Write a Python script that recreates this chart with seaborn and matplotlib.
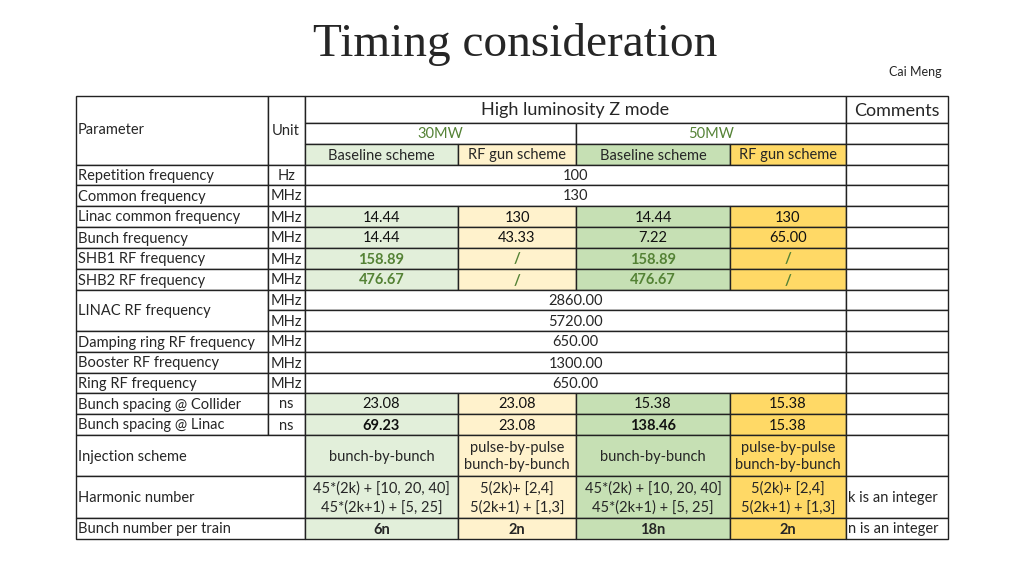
"""Timing consideration table (Z mode) redrawn as a figure."""

import matplotlib.pyplot as plt
from matplotlib.patches import Rectangle
import seaborn as sns

sns.set_theme(style="white", rc={"font.family": "Lato"})

# ---- data ----
params = [
    "Repetition frequency", "Common frequency", "Linac common frequency",
    "Bunch frequency", "SHB1 RF frequency", "SHB2 RF frequency",
    "LINAC RF frequency", None, "Damping ring RF frequency",
    "Booster RF frequency", "Ring RF frequency", "Bunch spacing @ Collider",
    "Bunch spacing @ Linac",
]
units = ["Hz", "MHz", "MHz", "MHz", "MHz", "MHz", "MHz", "MHz", "MHz",
         "MHz", "MHz", "ns", "ns"]
# None in a column means the value is shared across all four schemes
shared = ["100", "130", None, None, None, None, "2860.00", "5720.00",
          "650.00", "1300.00", "650.00", None, None]
base_30 = [None, None, "14.44", "14.44", "158.89", "476.67", None, None,
           None, None, None, "23.08", "69.23"]
gun_30 = [None, None, "130", "43.33", "/", "/", None, None,
          None, None, None, "23.08", "23.08"]
base_50 = [None, None, "14.44", "7.22", "158.89", "476.67", None, None,
           None, None, None, "15.38", "138.46"]
gun_50 = [None, None, "130", "65.00", "/", "/", None, None,
          None, None, None, "15.38", "15.38"]
bold_rows = {4, 5}          # green bold text
bold_cells = {(12, 0), (12, 2)}
injection = ["bunch-by-bunch", "pulse-by-pulse\nbunch-by-bunch",
             "bunch-by-bunch", "pulse-by-pulse\nbunch-by-bunch"]
harmonic = ["45*(2k) + [10, 20, 40]\n45*(2k+1) + [5, 25]",
            "5(2k)+ [2,4]\n5(2k+1) + [1,3]",
            "45*(2k) + [10, 20, 40]\n45*(2k+1) + [5, 25]",
            "5(2k)+ [2,4]\n5(2k+1) + [1,3]"]
bunch_number = ["6n", "2n", "18n", "2n"]
scheme_colors = ["#e2efda", "#fff2cc", "#c6e0b4", "#ffd966"]

# ---- layout (pixels) ----
cx = [76, 268, 305, 458, 576, 730, 846, 948]
ry = [165, 185, 206, 227, 248, 269, 290, 310, 331, 352, 373, 393, 414, 435]
FS = 10.5

fig = plt.figure(figsize=(10.24, 5.76), dpi=100)
ax = fig.add_axes([0, 0, 1, 1])
ax.set_xlim(0, 1024)
ax.set_ylim(576, 0)
ax.axis("off")


def cell(x0, x1, y0, y1, text="", fc="white", ha="center", **kw):
    ax.add_patch(Rectangle((x0, y0), x1 - x0, y1 - y0, facecolor=fc,
                           edgecolor="#222222", lw=1.0))
    if text:
        tx = (x0 + x1) / 2 if ha == "center" else x0 + 2
        ax.text(tx, (y0 + y1) / 2 + 1, text, ha=ha, va="center",
                fontsize=kw.pop("fontsize", FS), linespacing=1.35, **kw)


ax.text(515, 44, "Timing consideration", ha="center", va="center",
        fontsize=34, family="Liberation Serif")
ax.text(942, 72, "Cai Meng", ha="right", va="center", fontsize=9)

# header
cell(cx[0], cx[1], 96, 165, "Parameter", ha="left")
ax.texts[-1].set_y(130)
cell(cx[1], cx[2], 96, 165, "")
ax.text(286, 131, "Unit", ha="center", va="center", fontsize=FS)
cell(cx[2], cx[6], 96, 123, "High luminosity Z mode", fontsize=13)
cell(cx[6], cx[7], 96, 123, "Comments", fontsize=13)
cell(cx[2], cx[4], 123, 144, "30MW", color="#548235")
cell(cx[4], cx[6], 123, 144, "50MW", color="#548235")
cell(cx[6], cx[7], 123, 144)
for j, name in enumerate(["Baseline scheme", "RF gun scheme"] * 2):
    cell(cx[2 + j], cx[3 + j], 144, 165, name, fc=scheme_colors[j])
cell(cx[6], cx[7], 144, 165)

columns = [base_30, gun_30, base_50, gun_50]
for i in range(len(params)):
    y0, y1 = ry[i], ry[i + 1]
    if params[i] is not None:
        span = y1 + (21 if params[i + 1 if i + 1 < len(params) else i] is None else 0)
        cell(cx[0], cx[1], y0, span, params[i], ha="left")
    cell(cx[1], cx[2], y0, y1, units[i])
    if shared[i] is not None:
        cell(cx[2], cx[6], y0, y1, shared[i])
    else:
        for j, col in enumerate(columns):
            green = i in bold_rows
            bold = green or (i, j) in bold_cells
            cell(cx[2 + j], cx[3 + j], y0, y1, col[i], fc=scheme_colors[j],
                 fontweight="bold" if bold else "normal",
                 color="#548235" if green else "#111111")
    cell(cx[6], cx[7], y0, y1)

# bottom rows
bottom = [("Injection scheme", injection, "", 435, 476),
          ("Harmonic number", harmonic, "k is an integer", 476, 518),
          ("Bunch number per train", bunch_number, "n is an integer", 518, 539)]
for label, vals, comment, y0, y1 in bottom:
    cell(cx[0], cx[2], y0, y1, label, ha="left")
    for j, v in enumerate(vals):
        cell(cx[2 + j], cx[3 + j], y0, y1, v, fc=scheme_colors[j],
             fontweight="bold" if label.startswith("Bunch number") else "normal")
    cell(cx[6], cx[7], y0, y1, comment, ha="left")

fig.savefig("out.png", dpi=100)
plt.close(fig)
